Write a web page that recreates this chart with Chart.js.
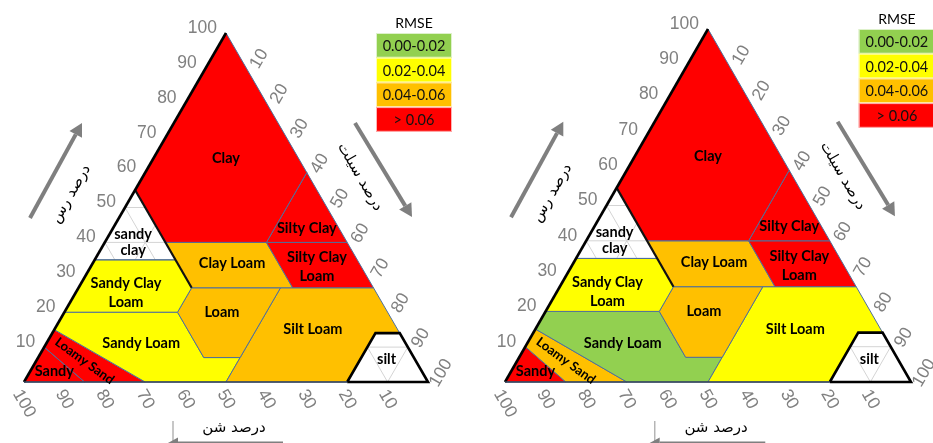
<!DOCTYPE html>
<html>
<head>
<meta charset="utf-8">
<script src="https://cdn.jsdelivr.net/npm/chart.js@4.4.1/dist/chart.umd.min.js"></script>
<style>
  html, body { margin: 0; padding: 0; background: #fff; }
  #wrap { position: relative; width: 933px; height: 443px; overflow: hidden; }
  canvas { position: absolute; top: 0; }
</style>
</head>
<body>
<div id="wrap">
  <canvas id="triLeft" width="470" height="443" style="left:0"></canvas>
  <canvas id="triRight" width="452" height="443" style="left:481px"></canvas>
</div>
<script>
// ===== DATA =====
// soil texture classes; corners are [sand %, clay %], silt is the rest
const classNames = ['Clay', 'Silty Clay', 'Silty Clay\nLoam', 'sandy\nclay', 'Clay Loam', 'Sandy Clay\nLoam',
  'Loam', 'Silt Loam', 'Sandy Loam', 'Loamy Sand', 'Sandy', 'silt'];
const classCorners = [
  [[45, 55], [0, 100], [0, 60], [20, 40], [45, 40]],
  [[20, 40], [0, 60], [0, 40]],
  [[20, 40], [0, 40], [0, 27], [20, 27]],
  [[65, 35], [45, 55], [45, 35]],
  [[45, 27], [45, 40], [20, 40], [20, 27]],
  [[80, 20], [65, 35], [45, 35], [45, 27], [52, 20]],
  [[43, 7], [52, 7], [52, 20], [45, 27], [23, 27]],
  [[50, 0], [20, 0], [6, 14], [0, 14], [0, 27], [23, 27], [43, 7]],
  [[85, 15], [80, 20], [52, 20], [52, 7], [43, 7], [50, 0], [70, 0]],
  [[85, 0], [70, 0], [85, 15], [90, 10]],
  [[100, 0], [85, 0], [90, 10]],
  [[20, 0], [0, 0], [0, 14], [6, 14]]
];
// where each class name sits, [sand %, clay %]
const labelAt = [[18, 64], [8, 44], [11, 33], [53, 40], [31.5, 34], [62, 25.5],
  [41, 20], [21, 15], [65.5, 11], [82, 6], [91, 3], [7, 6.5]];

// RMSE bin of each class (null = not evaluated)
const binLabels = ['0.00-0.02', '0.02-0.04', '0.04-0.06', '> 0.06'];
const binColors = ['#92D050', '#FFFF00', '#FFC000', '#FF0000'];
const rmseBinLeft = [3, 3, 3, null, 2, 1, 2, 2, 1, 3, 3, null];
const rmseBinRight = [3, 3, 3, null, 2, 1, 2, 1, 0, 2, 3, null];

const tickValues = [10, 20, 30, 40, 50, 60, 70, 80, 90, 100];

// ===== HELPERS =====
const H = Math.sqrt(3) / 2;

function toXY(sand, clay) {
  const silt = 100 - sand - clay;
  return { x: silt + clay / 2, y: clay * H };
}

function lineSet(corners, color, width, order) {
  return {
    data: corners.map(c => toXY(c[0], c[1])),
    showLine: true,
    fill: false,
    borderColor: color,
    borderWidth: width,
    pointRadius: 0,
    order: order,
    clip: false
  };
}

function buildDatasets(bins) {
  const sets = [];
  // faint 10 % grid, shows through the unfilled classes
  tickValues.filter(v => v < 100).forEach(v => {
    sets.push(lineSet([[100 - v, v], [0, v]], '#d4d4d4', 1, 3));
    sets.push(lineSet([[v, 0], [v, 100 - v]], '#d4d4d4', 1, 3));
    sets.push(lineSet([[100 - v, 0], [0, 100 - v]], '#d4d4d4', 1, 3));
  });

  classCorners.forEach((corners, i) => {
    const bin = bins[i];
    const pts = corners.concat([corners[0]]);
    const ds = lineSet(pts, '#4e6f9c', 1, 2);
    ds.fill = bin === null ? false : 'shape';
    ds.backgroundColor = bin === null ? 'rgba(0,0,0,0)' : binColors[bin];
    sets.push(ds);
  });

  // heavy outlines
  sets.push(lineSet([[100, 0], [20, 0]], '#34435a', 1.6, 1));
  sets.push(lineSet([[100, 0], [0, 100]], '#000', 2.6, 1));
  sets.push(lineSet([[45, 55], [45, 27]], '#111', 2.2, 1));
  sets.push(lineSet(classCorners[11].concat([classCorners[11][0]]), '#000', 2.6, 1));
  return sets;
}

function drawArrow(ctx, x1, y1, x2, y2, width, head) {
  const ang = Math.atan2(y2 - y1, x2 - x1);
  const bx = x2 - head * Math.cos(ang);
  const by = y2 - head * Math.sin(ang);
  const hw = head * 0.55;
  ctx.strokeStyle = '#7f7f7f';
  ctx.fillStyle = '#7f7f7f';
  ctx.lineWidth = width;
  ctx.beginPath();
  ctx.moveTo(x1, y1);
  ctx.lineTo(bx, by);
  ctx.stroke();
  ctx.beginPath();
  ctx.moveTo(x2, y2);
  ctx.lineTo(bx + hw * Math.sin(ang), by - hw * Math.cos(ang));
  ctx.lineTo(bx - hw * Math.sin(ang), by + hw * Math.cos(ang));
  ctx.closePath();
  ctx.fill();
}

function rotatedText(ctx, text, cx, cy, deg) {
  ctx.save();
  ctx.translate(cx, cy);
  ctx.rotate(deg * Math.PI / 180);
  ctx.fillText(text, 0, 0);
  ctx.restore();
}

// ===== TEXT, TICKS, LEGEND, ARROWS =====
const trianglePlugin = {
  id: 'triangleText',
  afterDatasetsDraw(chart) {
    const { ctx, chartArea: a, scales } = chart;
    const s = (a.right - a.left) / 404;
    const ax = a.left, ay = a.bottom;
    const at = (sand, clay) => {
      const p = toXY(sand, clay);
      return { x: scales.x.getPixelForValue(p.x), y: scales.y.getPixelForValue(p.y) };
    };

    ctx.save();

    // class names
    ctx.fillStyle = '#000';
    ctx.textAlign = 'center';
    ctx.textBaseline = 'middle';
    classNames.forEach((name, i) => {
      const p = at(labelAt[i][0], labelAt[i][1]);
      if (name === 'Loamy Sand') {
        ctx.font = 'bold 13px Lato';
        rotatedText(ctx, name, p.x, p.y, 36);
        return;
      }
      ctx.font = 'bold 14.5px Lato';
      const lines = name.split('\n');
      const gap = i === 3 ? 16 : 19;
      lines.forEach((ln, k) => {
        ctx.fillText(ln, p.x, p.y + (k - (lines.length - 1) / 2) * gap);
      });
    });

    // tick labels
    ctx.fillStyle = '#808080';
    ctx.font = '17.5px "Liberation Sans", Arial, sans-serif';
    tickValues.forEach(v => {
      // clay, left side
      let p = at(100 - v, v);
      ctx.textAlign = 'right';
      ctx.fillText(String(v), p.x - 9 * s, p.y - 5);
      ctx.textAlign = 'center';
      // silt, right side
      p = at(0, 100 - v);
      const w = ctx.measureText(String(v)).width;
      rotatedText(ctx, String(v), p.x + 13 * s, p.y - 9 * s, -60);
      // sand, bottom
      p = at(v, 0);
      rotatedText(ctx, String(v), p.x, p.y + 9 + (w / 2) * 0.866, 60);
    });

    // legend
    const lx = ax + 352 * s, lw = 76 * s, rh = 24.7;
    const ly = a.top;
    ctx.fillStyle = '#000';
    ctx.font = '14px Lato';
    ctx.textAlign = 'center';
    ctx.fillText('RMSE', lx + lw / 2, ly - 10);
    ctx.font = '14.5px Lato';
    binLabels.forEach((lab, i) => {
      ctx.fillStyle = binColors[i];
      ctx.fillRect(lx, ly + i * rh, lw, rh);
      ctx.strokeStyle = 'rgba(255,255,255,0.7)';
      ctx.lineWidth = 1;
      ctx.strokeRect(lx + 0.5, ly + i * rh + 0.5, lw - 1, rh - 1);
      ctx.fillStyle = '#111';
      ctx.fillText(lab, lx + lw / 2, ly + i * rh + rh / 2 + 1);
    });

    // direction arrows
    drawArrow(ctx, ax + 6 * s, ay - 164 * s, ax + 58 * s, ay - 259 * s, 4, 13);
    drawArrow(ctx, ax + 331 * s, ay - 259 * s, ax + 388 * s, ay - 165 * s, 4, 13);

    // axis names
    ctx.fillStyle = '#000';
    ctx.font = '15px "DejaVu Sans", sans-serif';
    rotatedText(ctx, 'درصد رس', ax + 47 * s, ay - 188 * s, -60);
    rotatedText(ctx, 'درصد سیلت', ax + 336 * s, ay - 205 * s, 60);
    ctx.fillText('درصد شن', ax + 210 * s, ay + 46);

    ctx.strokeStyle = '#b5b5b5';
    ctx.lineWidth = 1.5;
    ctx.beginPath();
    ctx.moveTo(ax + 149 * s, ay + 39);
    ctx.lineTo(ax + 149 * s, ay + 61);
    ctx.stroke();
    drawArrow(ctx, ax + 259 * s, ay + 61.5, ax + 143 * s, ay + 61.5, 4, 11);

    ctx.restore();
  }
};

// ===== CHARTS =====
function makeTriangle(canvasId, bins, padding) {
  return new Chart(document.getElementById(canvasId), {
    type: 'scatter',
    data: { datasets: buildDatasets(bins) },
    options: {
      responsive: false,
      animation: false,
      layout: { padding: padding },
      scales: {
        x: { type: 'linear', min: 0, max: 100, display: false },
        y: { type: 'linear', min: 0, max: 100 * H, display: false }
      },
      plugins: {
        legend: { display: false },
        tooltip: { enabled: false }
      }
    },
    plugins: [trianglePlugin]
  });
}

makeTriangle('triLeft', rmseBinLeft, { left: 24, right: 42, top: 33, bottom: 61 });
makeTriangle('triRight', rmseBinRight, { left: 24, right: 22, top: 29, bottom: 61 });
</script>
</body>
</html>
